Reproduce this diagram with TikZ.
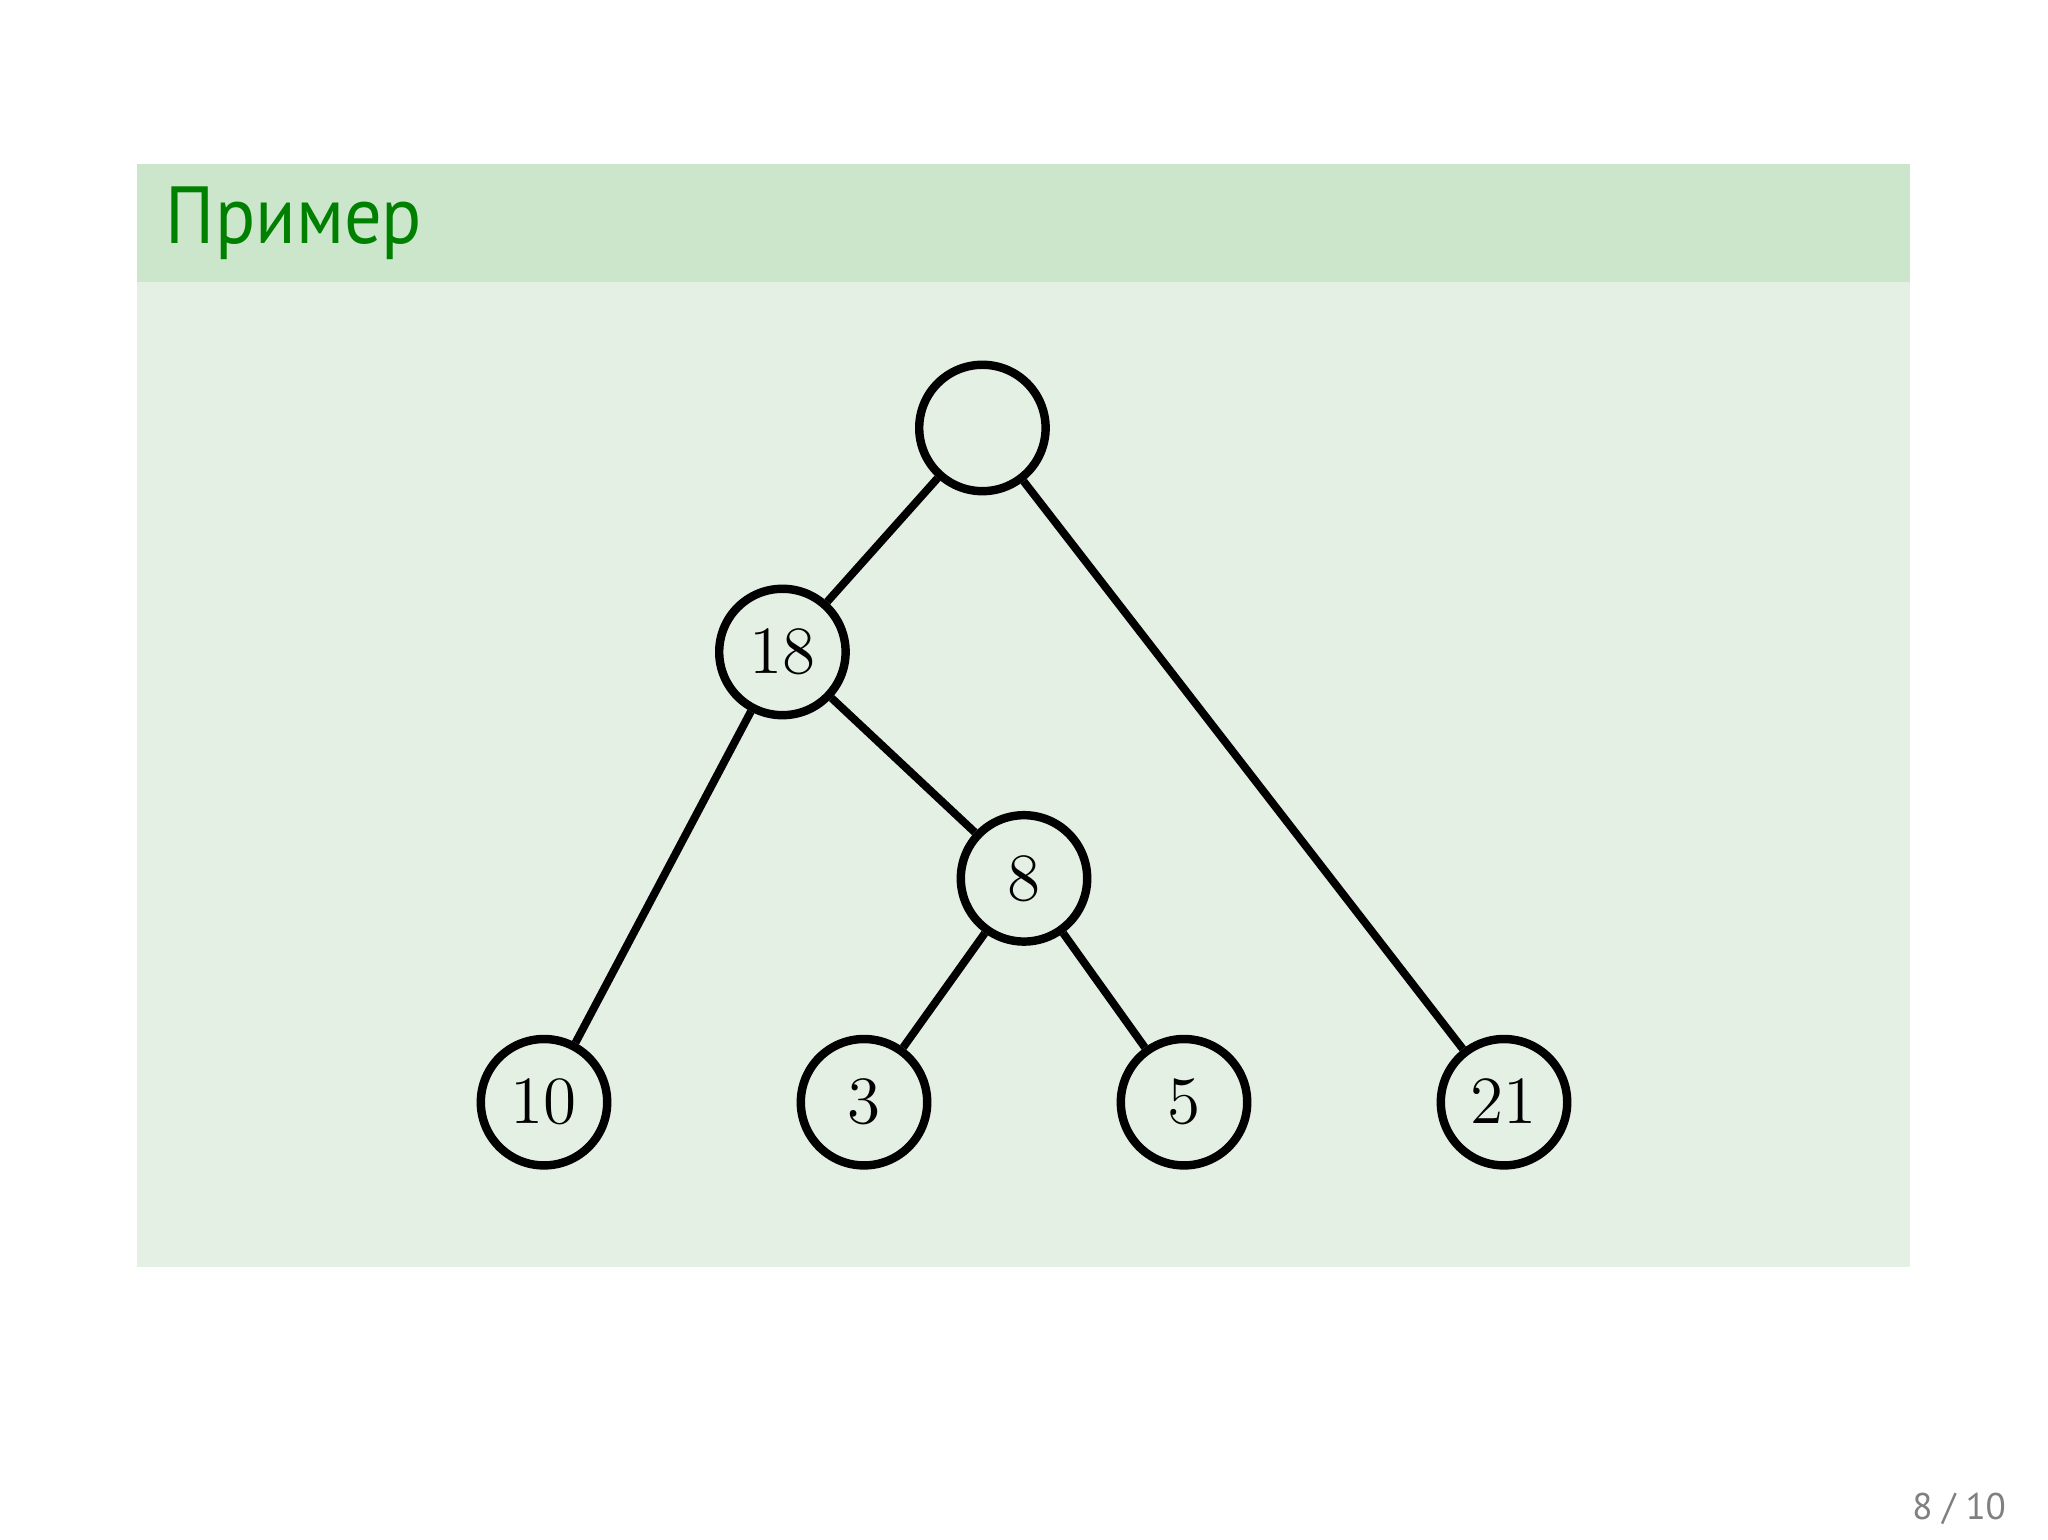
\documentclass[tikz,border=0pt]{standalone}
\usepackage{fontspec}
\usepackage{xcolor}
\usepackage{graphicx}
\usetikzlibrary{positioning}
\newfontfamily\titlefont{PT Sans}

\definecolor{blockhead}{RGB}{204,230,204}
\definecolor{blockbody}{RGB}{229,240,229}
\definecolor{blocktitle}{RGB}{0,128,0}

\tikzset{
	treenode/.style={draw, circle, line width=1.5pt, minimum size=7.9mm, inner sep=0pt, font=\fontsize{12.5}{15}\selectfont},
	treeedge/.style={line width=1.4pt}
}

\begin{document}
\begin{tikzpicture}[x=1mm, y=1mm]
		%page and block
		\useasboundingbox (0,0) rectangle (128,96.19);
		\fill[white] (0,0) rectangle (128,96.19);
		\fill[blockbody] (8.56,17.0) rectangle (119.4,78.56);
		\fill[blockhead] (8.56,78.56) rectangle (119.4,85.94);
		\node[anchor=base west, inner sep=0pt, text=blocktitle, font=\titlefont\fontsize{14.4}{17}\selectfont] (title) at (10.3,80.94) {\scalebox{0.92}[1]{Пример}};
		\node[anchor=base east, inner sep=0pt, text=gray, font=\titlefont\fontsize{6.6}{8}\selectfont] (pagenum) at (125.44,1.19) {8 / 10};

		%coordinates
		\coordinate (Croot) at (61.4,69.44);
		\coordinate (Cone)  at (48.9,55.44);
		\coordinate (Ctwo)  at (64.0,41.29);
		\coordinate (Cten)  at (34.0,27.3);
		\coordinate (Cthr)  at (54.0,27.3);
		\coordinate (Cfiv)  at (74.0,27.3);
		\coordinate (Ctwe)  at (94.0,27.3);

		%nodes
		\node[treenode] (root) at (Croot) {};
		\node[treenode] (n18)  at (Cone)  {$18$};
		\node[treenode] (n8)   at (Ctwo)  {$8$};
		\node[treenode] (n10)  at (Cten)  {$10$};
		\node[treenode] (n3)   at (Cthr)  {$3$};
		\node[treenode] (n5)   at (Cfiv)  {$5$};
		\node[treenode] (n21)  at (Ctwe)  {$21$};

		\draw[treeedge] (root) -- (n18);
		\draw[treeedge] (root) -- (n21);
		\draw[treeedge] (n18) -- (n10);
		\draw[treeedge] (n18) -- (n8);
		\draw[treeedge] (n8) -- (n3);
		\draw[treeedge] (n8) -- (n5);
		\end{tikzpicture}
\end{document}
